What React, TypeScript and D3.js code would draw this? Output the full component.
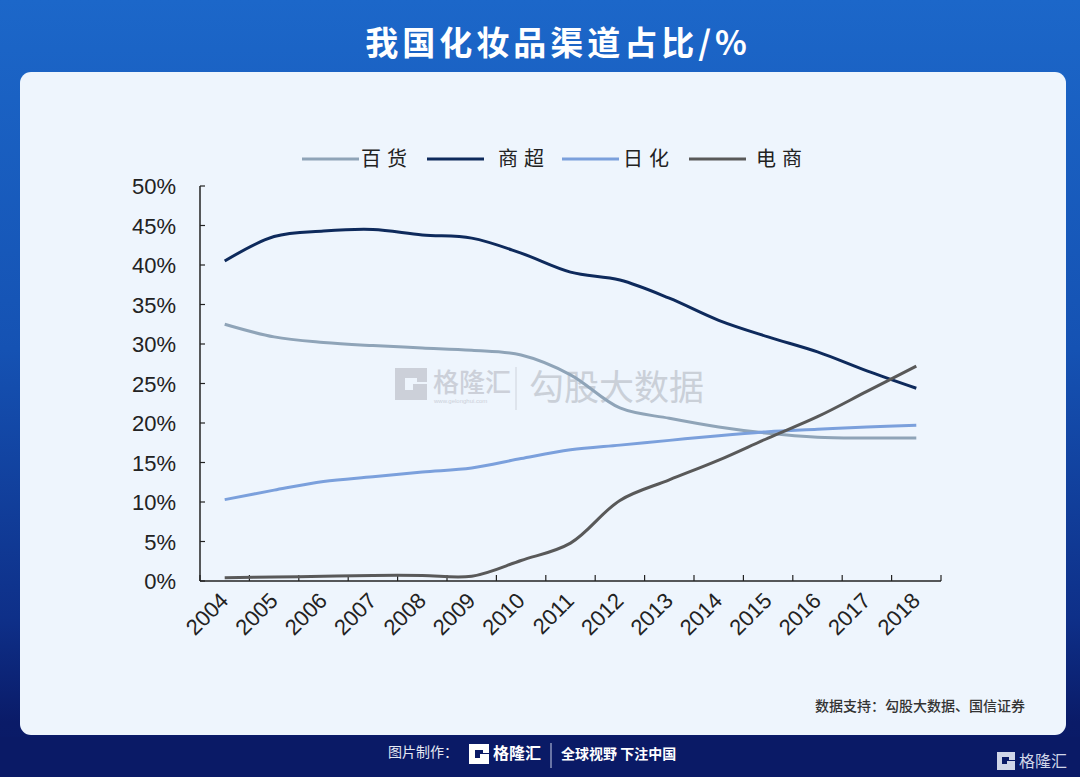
import React from "react";
import * as d3 from "d3";

const years = ["2004","2005","2006","2007","2008","2009","2010","2011","2012","2013","2014","2015","2016","2017","2018"];
const baihuo = [32.5, 30.9, 30.2, 29.8, 29.5, 29.2, 28.6, 26.1, 21.9, 20.6, 19.5, 18.7, 18.2, 18.1, 18.1];
const shangchao = [40.5, 43.6, 44.3, 44.5, 43.8, 43.4, 41.5, 39.1, 38.1, 35.8, 33.0, 30.9, 29.0, 26.6, 24.4];
const rihua = [10.3, 11.5, 12.6, 13.2, 13.8, 14.3, 15.5, 16.6, 17.2, 17.8, 18.4, 18.9, 19.2, 19.5, 19.7];
const dianshang = [0.4, 0.5, 0.6, 0.7, 0.7, 0.6, 2.6, 4.8, 10.2, 12.8, 15.3, 18.1, 20.8, 24.0, 27.2];
const yTicks = [0, 5, 10, 15, 20, 25, 30, 35, 40, 45, 50];

const seriesNames = ["百货", "商超", "日化", "电商"];
const seriesColors = ["#8fa4b8", "#0e2a5c", "#7ba0dc", "#595959"];
const seriesData = [baihuo, shangchao, rihua, dianshang];

export default function App() {
  const W = 1080, H = 777;
  const x0 = 200, x1 = 941, yTop = 186, yBot = 581;
  const x = d3.scaleBand<string>().domain(years).range([x0, x1]);
  const y = d3.scaleLinear().domain([0, 50]).range([yBot, yTop]);
  const line = d3
    .line<number>()
    .x((_, i) => (x(years[i]) as number) + x.bandwidth() / 2)
    .y((d) => y(d))
    .curve(d3.curveCatmullRom.alpha(0.5));

  const boundaries = years.map((yr) => x(yr) as number).concat([x1]);
  const legendX = [302, 427, 562, 689];
  const legendTextX = [361, 498, 623, 756];
  const fontSans = "'Liberation Sans', Arial, sans-serif";
  const fontCJK = "'Noto Sans CJK SC', 'Noto Sans', sans-serif";

  return (
    <svg width={W} height={H} style={{ position: "absolute", left: 0, top: 0 }}>
      <defs>
        <linearGradient id="bg" x1="0" y1="0" x2="0" y2="1">
          <stop offset="0" stopColor="#1c67c9" />
          <stop offset="0.45" stopColor="#1552b3" />
          <stop offset="0.8" stopColor="#0e2f88" />
          <stop offset="0.93" stopColor="#0a1b68" />
          <stop offset="1" stopColor="#0a1a66" />
        </linearGradient>
      </defs>
      <rect x={0} y={0} width={W} height={H} fill="url(#bg)" />
      <rect x={0} y={737} width={W} height={40} fill="#0a1a66" />
      <rect x={20} y={72} width={1046} height={663} rx={11} ry={11} fill="#eef5fd" />

      <text x={558} y={55} textAnchor="middle" fill="#ffffff" fontFamily={fontCJK} fontWeight={700} fontSize={33} letterSpacing={4}>
        我国化妆品渠道占比/%
      </text>

      {/* watermark */}
      <g opacity={0.9}>
        <path d="M395,368 h32 v14 h-10 v-4 h-12 v12 h8 v-6 h14 v16 h-32 z" fill="#c9cdd6" />
        <text x={433} y={392} fill="#c9cdd6" fontFamily={fontCJK} fontSize={26} fontWeight={500}>格隆汇</text>
        <text x={434} y={403} fill="#c9cdd6" fontFamily={fontSans} fontSize={6}>www.gelonghui.com</text>
        <line x1={516} x2={516} y1={367} y2={410} stroke="#ccd1da" strokeWidth={1} />
        <text x={529} y={400} fill="#c7ccd5" fontFamily={fontCJK} fontSize={35}>勾股大数据</text>
      </g>

      {/* legend */}
      {seriesNames.map((n, i) => (
        <g key={n}>
          <line x1={legendX[i]} x2={legendX[i] + 57} y1={159} y2={159} stroke={seriesColors[i]} strokeWidth={3} />
          <text x={legendTextX[i]} y={166} fill="#222" fontFamily={fontCJK} fontSize={20} letterSpacing={6}>{n}</text>
        </g>
      ))}

      {/* axes */}
      <line x1={x0} x2={x0} y1={yTop} y2={yBot} stroke="#222" strokeWidth={1.5} />
      <line x1={x0} x2={x1} y1={yBot} y2={yBot} stroke="#222" strokeWidth={1.5} />
      {yTicks.map((t) => (
        <g key={t}>
          <line x1={x0} x2={x0 + 5} y1={y(t)} y2={y(t)} stroke="#222" strokeWidth={1.2} />
          <text x={176} y={y(t) + 8} textAnchor="end" fill="#222" fontFamily={fontSans} fontSize={22}>{t}%</text>
        </g>
      ))}
      {boundaries.map((b, i) => (
        <line key={i} x1={b} x2={b} y1={yBot} y2={yBot - 6} stroke="#222" strokeWidth={1.2} />
      ))}
      {years.map((yr) => {
        const cx = (x(yr) as number) + x.bandwidth() / 2;
        return (
          <text key={yr} transform={`translate(${cx + 5},${602}) rotate(-45)`} textAnchor="end" fill="#222" fontFamily={fontSans} fontSize={22}>
            {yr}
          </text>
        );
      })}

      {/* lines */}
      {seriesData.map((s, i) => (
        <path key={i} d={line(s) || ""} fill="none" stroke={seriesColors[i]} strokeWidth={3} strokeLinejoin="round" />
      ))}

      <text x={1025} y={711} textAnchor="end" fill="#333" fontFamily={fontCJK} fontSize={14} fontWeight={500}>
        数据支持：勾股大数据、国信证券
      </text>

      {/* footer */}
      <text x={388} y={757} fill="#e6e9f3" fontFamily={fontCJK} fontSize={14}>图片制作：</text>
      <path d="M469,744 h20 v9 h-6 v-3 h-8 v8 h5 v-4 h9 v10 h-20 z" fill="#ffffff" />
      <text x={493} y={759} fill="#ffffff" fontFamily={fontCJK} fontSize={16} fontWeight={700}>格隆汇</text>
      <line x1={551} x2={551} y1={743} y2={768} stroke="#c9d0e6" strokeWidth={1} />
      <text x={561} y={759} fill="#ffffff" fontFamily={fontCJK} fontSize={14} fontWeight={700}>全球视野 下注中国</text>
      <path d="M997,752 h18 v8 h-6 v-3 h-7 v7 h5 v-3 h8 v9 h-18 z" fill="#d0d6e8" />
      <text x={1019} y={767} fill="#d0d6e8" fontFamily={fontCJK} fontSize={16}>格隆汇</text>
    </svg>
  );
}
